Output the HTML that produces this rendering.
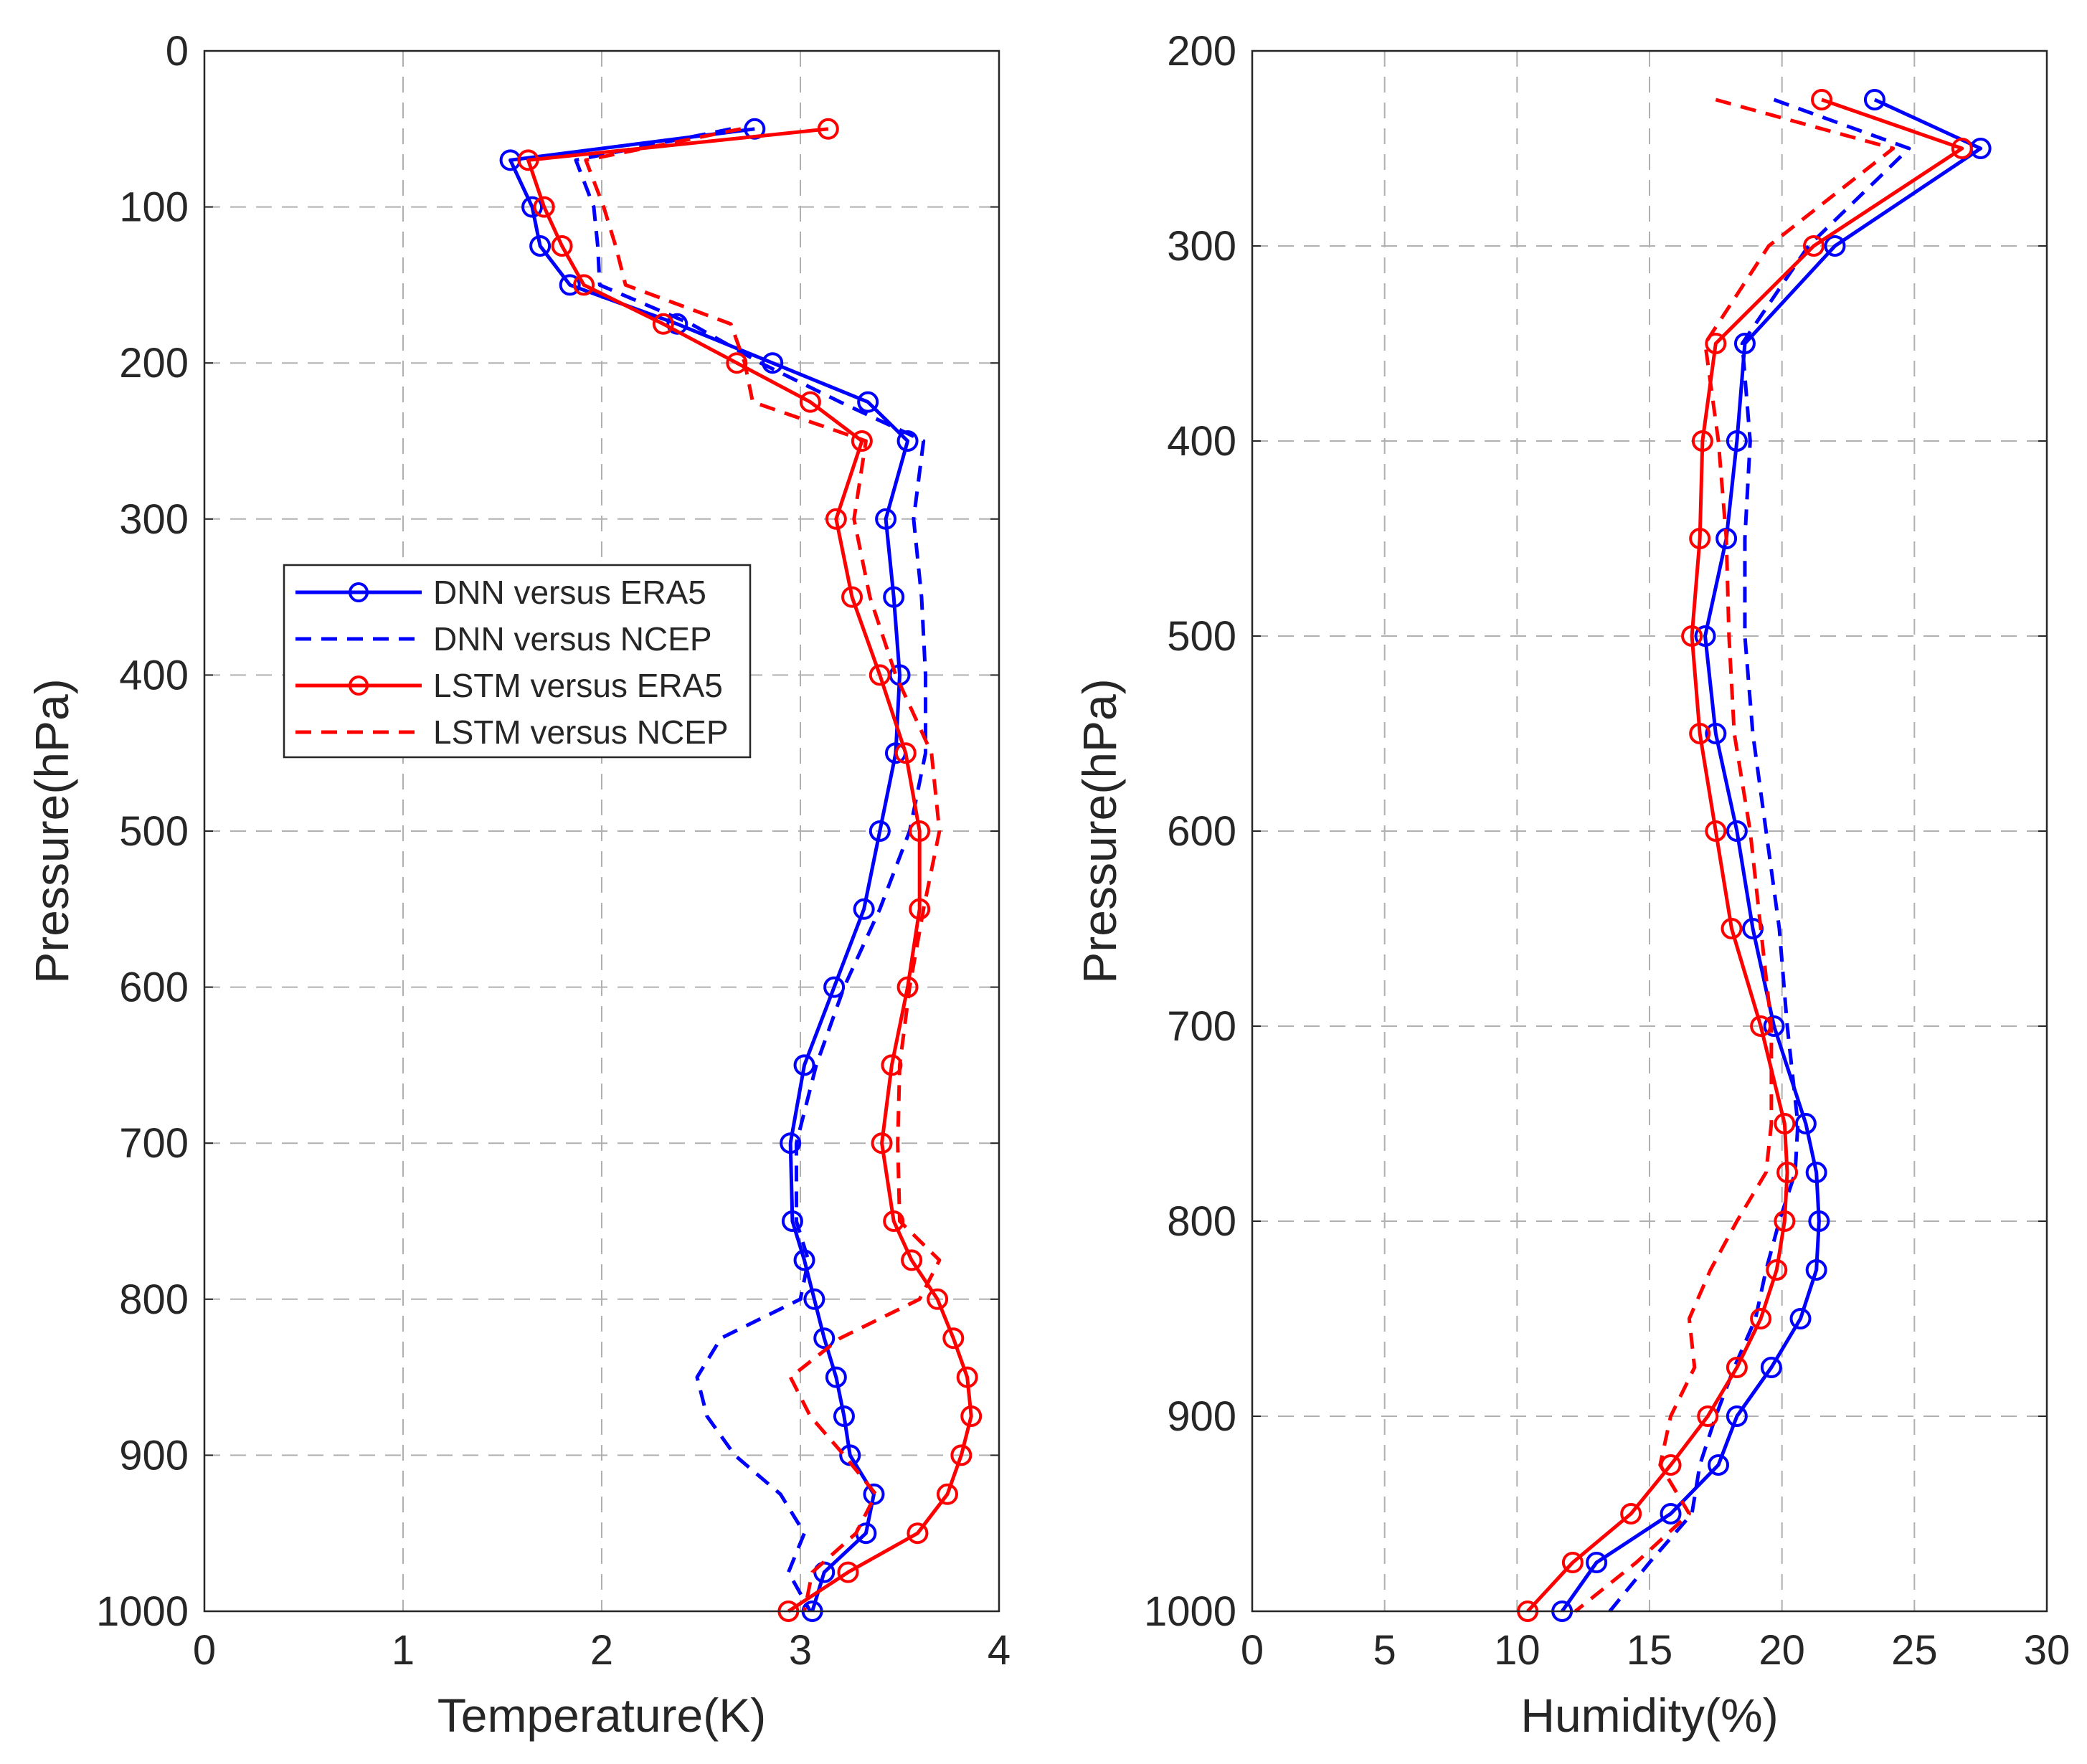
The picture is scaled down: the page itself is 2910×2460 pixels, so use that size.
<!DOCTYPE html>
<html><head><meta charset="utf-8"><style>
body{margin:0;background:#fff}
svg{display:block;font-family:"Liberation Sans",Arial,sans-serif}
</style></head><body>
<svg id="c" width="2910" height="2460" viewBox="0 0 2910 2460"></svg>
<script>
const tempLevels=[50,70,100,125,150,175,200,225,250,300,350,400,450,500,550,600,650,700,750,775,800,825,850,875,900,925,950,975,1000];
const tDnnEra=[2.77,1.54,1.65,1.69,1.84,2.38,2.86,3.34,3.54,3.43,3.47,3.50,3.48,3.40,3.32,3.17,3.02,2.95,2.96,3.02,3.07,3.12,3.18,3.22,3.25,3.37,3.33,3.12,3.06];
const tDnnNcep=[2.65,1.87,1.96,1.98,1.99,2.45,2.80,3.20,3.62,3.57,3.61,3.63,3.63,3.55,3.40,3.22,3.08,2.98,2.98,3.04,3.00,2.60,2.48,2.53,2.67,2.90,3.02,2.94,3.05];
const tLstmEra=[3.14,1.63,1.71,1.80,1.91,2.31,2.68,3.05,3.31,3.18,3.26,3.40,3.53,3.60,3.60,3.54,3.46,3.41,3.47,3.56,3.69,3.77,3.84,3.86,3.81,3.74,3.59,3.24,2.94];
const tLstmNcep=[2.70,1.92,2.01,2.07,2.12,2.65,2.72,2.76,3.33,3.27,3.35,3.48,3.66,3.70,3.62,3.55,3.50,3.49,3.50,3.70,3.60,3.20,2.95,3.05,3.22,3.38,3.28,3.06,3.02];
const humLevels=[225,250,300,350,400,450,500,550,600,650,700,750,775,800,825,850,875,900,925,950,975,1000];
const hDnnEra=[23.5,27.5,22.0,18.6,18.3,17.9,17.1,17.5,18.3,18.9,19.7,20.9,21.3,21.4,21.3,20.7,19.6,18.3,17.6,15.8,13.0,11.7];
const hDnnNcep=[19.7,24.8,21.0,18.5,18.8,18.6,18.6,18.9,19.4,19.9,20.2,20.6,20.5,19.9,19.4,19.0,18.2,17.5,16.9,16.6,15.0,13.5];
const hLstmEra=[21.5,26.8,21.2,17.5,17.0,16.9,16.6,16.9,17.5,18.1,19.2,20.1,20.2,20.1,19.8,19.2,18.3,17.2,15.8,14.3,12.1,10.4];
const hLstmNcep=[17.5,24.2,19.5,17.1,17.6,17.9,18.0,18.2,18.8,19.2,19.6,19.6,19.4,18.3,17.3,16.5,16.7,15.8,15.4,16.5,14.5,12.2];
const tXTicks=[0,1,2,3,4];
const tYTicks=[0,100,200,300,400,500,600,700,800,900,1000];
const hXTicks=[0,5,10,15,20,25,30];
const hYTicks=[200,300,400,500,600,700,800,900,1000];

const svg=document.getElementById('c');
const NS='http://www.w3.org/2000/svg';
function mk(tag,attrs,parent){const e=document.createElementNS(NS,tag);for(const k in attrs)e.setAttribute(k,attrs[k]);(parent||svg).appendChild(e);return e;}

function panel(name,L,R,T,B,xmin,xmax,ymin,ymax,xt,yt,xlabel,series,levels){
  const g=mk('g',{});
  
  
  const X=v=>L+(v-xmin)/(xmax-xmin)*(R-L);
  const Y=v=>T+(v-ymin)/(ymax-ymin)*(B-T);
  xt.forEach(v=>{
    if(v>xmin&&v<xmax){const l=mk('line',{x1:X(v),x2:X(v),y1:T,y2:B,stroke:'#b0b0b0','stroke-width':2,'stroke-dasharray':'22,14'},g);}
    const t=mk('text',{x:X(v),y:B+74,'font-size':58,'text-anchor':'middle',fill:'#262626'},g);t.textContent=v;
    
  });
  yt.forEach(v=>{
    if(v>ymin&&v<ymax){const l=mk('line',{x1:L,x2:R,y1:Y(v),y2:Y(v),stroke:'#b0b0b0','stroke-width':2,'stroke-dasharray':'22,14'},g);}
    mk('line',{x1:L,x2:L+12,y1:Y(v),y2:Y(v),stroke:'#262626','stroke-width':2},g);
    mk('line',{x1:R,x2:R-12,y1:Y(v),y2:Y(v),stroke:'#262626','stroke-width':2},g);
    const t=mk('text',{x:L-22,y:Y(v)+20,'font-size':58,'text-anchor':'end',fill:'#262626'},g);t.textContent=v;
    
  });
  series.forEach(s=>{
    const pts=s.vals.map((v,i)=>X(v)+','+Y(levels[i])).join(' ');
    const p=mk('polyline',{points:pts,fill:'none',stroke:s.color,'stroke-width':5,'stroke-dasharray':s.dash?'22,14':'none','stroke-linejoin':'round'},g);
    
    
    if(!s.dash){s.vals.forEach((v,i)=>{const c=mk('circle',{cx:X(v),cy:Y(levels[i]),r:13,fill:'none',stroke:s.color,'stroke-width':4},g);});}
  });
  const fr=mk('rect',{x:L,y:T,width:R-L,height:B-T,fill:'none',stroke:'#262626','stroke-width':2.5},g);
  
  const xl=mk('text',{x:(L+R)/2,y:B+168,'font-size':66,'text-anchor':'middle',fill:'#262626'},g);xl.textContent=xlabel;
  
  const cy=(T+B)/2;
  const yl=mk('text',{x:L-190,y:cy,'font-size':66,'text-anchor':'middle',fill:'#262626',transform:`rotate(-90 ${L-190} ${cy})`},g);yl.textContent='Pressure(hPa)';
  
}
panel('temperature-panel',285,1393,71,2247,0,4,0,1000,tXTicks,tYTicks,'Temperature(K)',[
 {name:'dnn-era5-line',vals:tDnnEra,color:'#0000ff',dash:false},
 {name:'dnn-ncep-line',vals:tDnnNcep,color:'#0000ff',dash:true},
 {name:'lstm-era5-line',vals:tLstmEra,color:'#ff0000',dash:false},
 {name:'lstm-ncep-line',vals:tLstmNcep,color:'#ff0000',dash:true}],tempLevels);
panel('humidity-panel',1746,2854,71,2247,0,30,200,1000,hXTicks,hYTicks,'Humidity(%)',[
 {name:'dnn-era5-line',vals:hDnnEra,color:'#0000ff',dash:false},
 {name:'dnn-ncep-line',vals:hDnnNcep,color:'#0000ff',dash:true},
 {name:'lstm-era5-line',vals:hLstmEra,color:'#ff0000',dash:false},
 {name:'lstm-ncep-line',vals:hLstmNcep,color:'#ff0000',dash:true}],humLevels);

// legend
const lg=mk('g',{});


mk('rect',{x:396,y:788,width:650,height:268,fill:'#fff',stroke:'#262626','stroke-width':2.5},lg);
const entries=[['DNN versus ERA5','#0000ff',false],['DNN versus NCEP','#0000ff',true],['LSTM versus ERA5','#ff0000',false],['LSTM versus NCEP','#ff0000',true]];
entries.forEach((e,i)=>{
  const y=826+i*65;
  const eg=mk('g',{},lg);
  
  
  mk('line',{x1:412,x2:588,y1:y,y2:y,stroke:e[1],'stroke-width':5,'stroke-dasharray':e[2]?'22,14':'none'},eg);
  if(!e[2])mk('circle',{cx:500,cy:y,r:12,fill:'none',stroke:e[1],'stroke-width':4},eg);
  const t=mk('text',{x:604,y:y+16,'font-size':46,fill:'#262626'},eg);t.textContent=e[0];
});
</script>
</body></html>
